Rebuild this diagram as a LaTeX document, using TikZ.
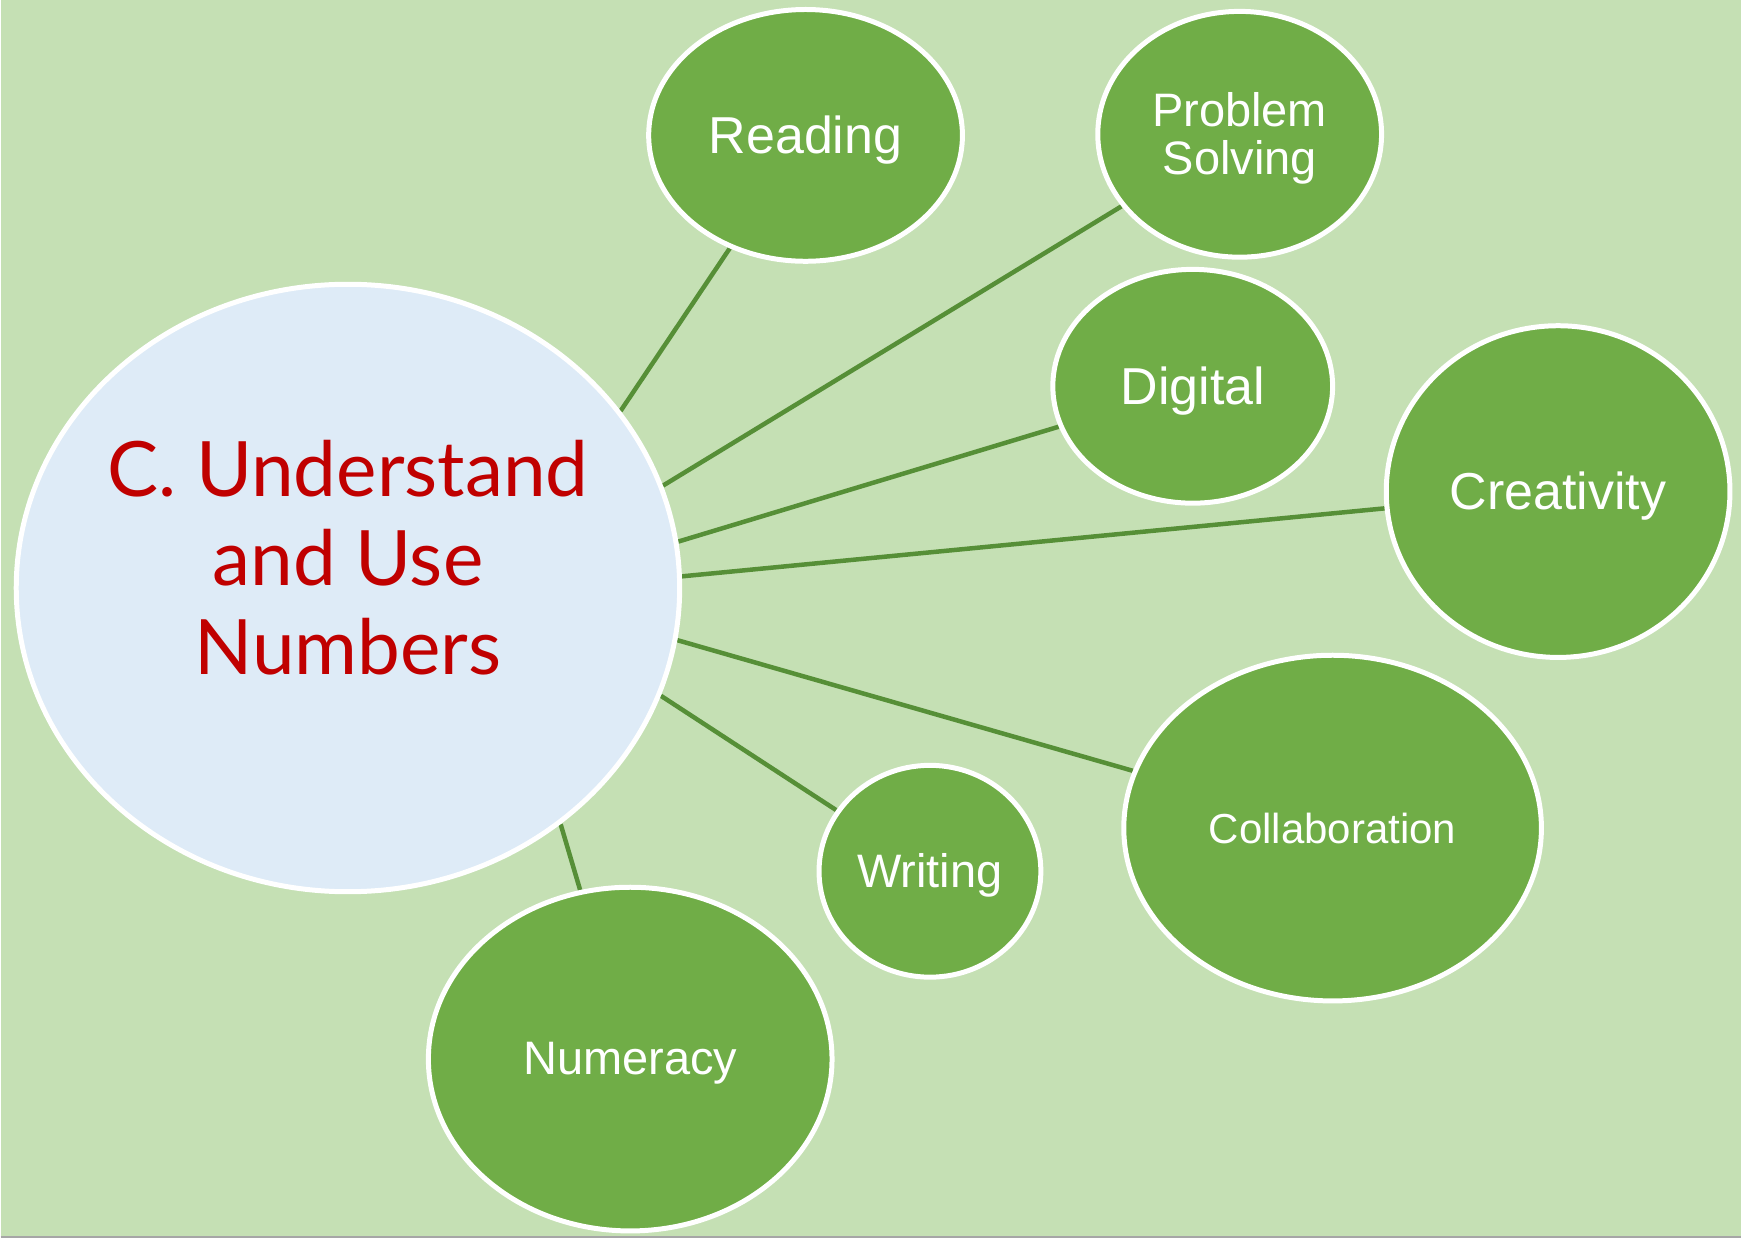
\documentclass[tikz,border=0pt]{standalone}
\usepackage{fontspec}
\setmainfont{Liberation Sans}
\newfontfamily\titlefont{Lato}
\usetikzlibrary{shapes.geometric}
\definecolor{bgg}{HTML}{C5E0B4}
\definecolor{leaf}{HTML}{70AD47}
\definecolor{hub}{HTML}{DEEBF7}
\definecolor{hubtext}{HTML}{C00000}
\definecolor{link}{HTML}{568F37}
\pgfdeclarelayer{backdrop}
\pgfdeclarelayer{links}
\pgfsetlayers{backdrop,links,main}
\tikzset{
  bubble/.style={ellipse, draw=white, line width=5pt, fill=leaf, inner sep=0pt},
  btext/.style={text=white, align=center, inner sep=0pt, yshift=-4.5pt},
  hubbubble/.style={ellipse, draw=white, line width=5pt, fill=hub, inner sep=0pt},
  connector/.style={draw=link, line width=4.5pt}
}
\begin{document}
\begin{tikzpicture}[x=1pt,y=-1pt]
\begin{pgfonlayer}{backdrop}
\fill[bgg] (0,0) rectangle (1742,1239);
\draw[gray!70, line width=1.5pt] (0,1238) -- (1742,1238);
\end{pgfonlayer}
\useasboundingbox (0,0) rectangle (1742,1239);

\node[hubbubble, minimum width=664pt, minimum height=608pt,
  label={[text=hubtext, align=center, inner sep=0pt, yshift=30.5pt, font=\titlefont\fontsize{76.5}{89}\selectfont]center:C. Understand\\and Use\\Numbers}] (main) at (347.5,588.5) {};

\node[bubble, minimum width=314pt, minimum height=252pt,
  label={[btext, font=\fontsize{52}{60}\selectfont]center:Reading}] (reading) at (805.5,135.5) {};
\node[bubble, minimum width=284pt, minimum height=246pt,
  label={[btext, font=\fontsize{47}{48}\selectfont]center:Problem\\Solving}] (problem) at (1240,134.4) {};
\node[bubble, minimum width=280pt, minimum height=234pt,
  label={[btext, font=\fontsize{52}{60}\selectfont]center:Digital}] (digital) at (1193,386.6) {};
\node[bubble, minimum width=344pt, minimum height=332pt,
  label={[btext, font=\fontsize{52}{60}\selectfont]center:Creativity}] (creativity) at (1558.7,492) {};
\node[bubble, minimum width=418pt, minimum height=346pt,
  label={[btext, yshift=4.5pt, font=\fontsize{42}{50}\selectfont]center:Collaboration}] (collab) at (1333,828.8) {};
\node[bubble, minimum width=222pt, minimum height=212pt,
  label={[btext, font=\fontsize{47}{56}\selectfont]center:Writing}] (writing) at (930,872) {};
\node[bubble, minimum width=404pt, minimum height=344pt,
  label={[btext, font=\fontsize{47}{56}\selectfont]center:Numeracy}] (numeracy) at (630,1060) {};

\begin{pgfonlayer}{links}
\draw[connector] (main.33.8) -- (reading);
\draw[connector] (main.18) -- (problem);
\draw[connector] (main.8.75) -- (digital);
\draw[connector] (main.2.4) -- (creativity);
\draw[connector] (main.-9.4) -- (collab);
\draw[connector] (main.-19.6) -- (writing);
\draw[connector] (main.-48) -- (numeracy);
\end{pgfonlayer}
\end{tikzpicture}
\end{document}
